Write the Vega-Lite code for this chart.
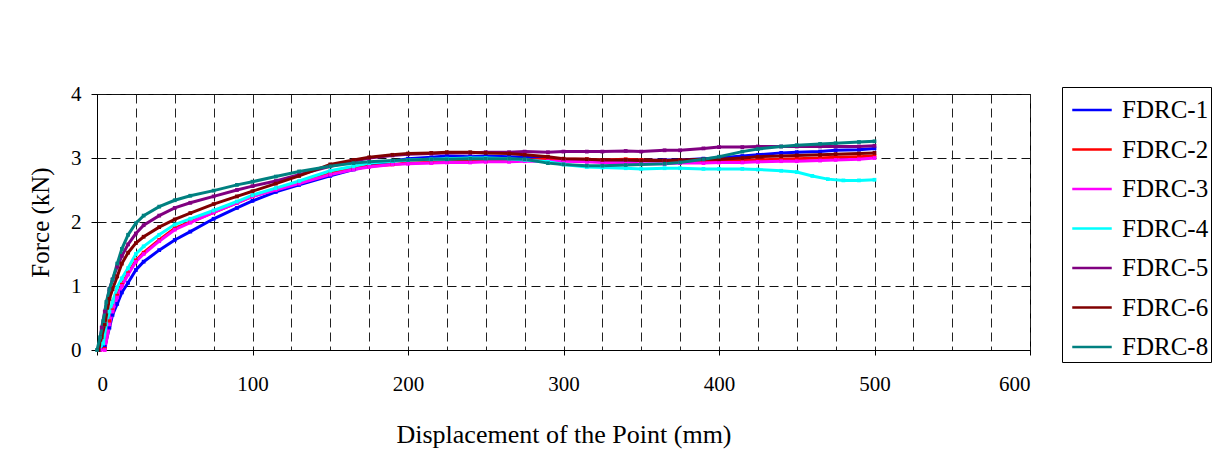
{
  "$schema": "https://vega.github.io/schema/vega-lite/v6.json",
  "autosize": {"type": "none"},
  "padding": {"left": 97, "top": 94, "right": 199, "bottom": 117},
  "width": 933,
  "height": 256,
  "background": "white",
  "config": {
    "view": {"stroke": "black", "strokeWidth": 1},
    "font": "Liberation Serif"
  },
  "datasets": {
    "curves": [
      {"s":"FDRC-1","x":2,"y":0},{"s":"FDRC-1","x":5,"y":0.05},{"s":"FDRC-1","x":8,"y":0.35},{"s":"FDRC-1","x":10,"y":0.55},{"s":"FDRC-1","x":13,"y":0.72},{"s":"FDRC-1","x":16,"y":0.9},{"s":"FDRC-1","x":20,"y":1.05},{"s":"FDRC-1","x":25,"y":1.25},{"s":"FDRC-1","x":30,"y":1.38},{"s":"FDRC-1","x":40,"y":1.56},{"s":"FDRC-1","x":50,"y":1.72},{"s":"FDRC-1","x":60,"y":1.85},{"s":"FDRC-1","x":75,"y":2.05},{"s":"FDRC-1","x":90,"y":2.22},{"s":"FDRC-1","x":100,"y":2.33},{"s":"FDRC-1","x":115,"y":2.47},{"s":"FDRC-1","x":130,"y":2.58},{"s":"FDRC-1","x":150,"y":2.72},{"s":"FDRC-1","x":165,"y":2.82},{"s":"FDRC-1","x":175,"y":2.88},{"s":"FDRC-1","x":190,"y":2.95},{"s":"FDRC-1","x":200,"y":2.99},{"s":"FDRC-1","x":215,"y":3.01},{"s":"FDRC-1","x":225,"y":3.03},{"s":"FDRC-1","x":240,"y":3.02},{"s":"FDRC-1","x":250,"y":3.03},{"s":"FDRC-1","x":265,"y":3.02},{"s":"FDRC-1","x":275,"y":3.01},{"s":"FDRC-1","x":290,"y":2.99},{"s":"FDRC-1","x":300,"y":2.97},{"s":"FDRC-1","x":315,"y":2.97},{"s":"FDRC-1","x":325,"y":2.96},{"s":"FDRC-1","x":340,"y":2.97},{"s":"FDRC-1","x":350,"y":2.96},{"s":"FDRC-1","x":365,"y":2.97},{"s":"FDRC-1","x":375,"y":2.97},{"s":"FDRC-1","x":390,"y":2.99},{"s":"FDRC-1","x":400,"y":3.0},{"s":"FDRC-1","x":415,"y":3.03},{"s":"FDRC-1","x":425,"y":3.05},{"s":"FDRC-1","x":440,"y":3.08},{"s":"FDRC-1","x":450,"y":3.09},{"s":"FDRC-1","x":465,"y":3.1},{"s":"FDRC-1","x":475,"y":3.12},{"s":"FDRC-1","x":490,"y":3.13},{"s":"FDRC-1","x":500,"y":3.15},
      {"s":"FDRC-2","x":2,"y":0},{"s":"FDRC-2","x":5,"y":0.02},{"s":"FDRC-2","x":8,"y":0.45},{"s":"FDRC-2","x":10,"y":0.62},{"s":"FDRC-2","x":13,"y":0.85},{"s":"FDRC-2","x":16,"y":1.02},{"s":"FDRC-2","x":20,"y":1.2},{"s":"FDRC-2","x":25,"y":1.4},{"s":"FDRC-2","x":30,"y":1.52},{"s":"FDRC-2","x":40,"y":1.72},{"s":"FDRC-2","x":50,"y":1.9},{"s":"FDRC-2","x":60,"y":2.0},{"s":"FDRC-2","x":75,"y":2.15},{"s":"FDRC-2","x":90,"y":2.3},{"s":"FDRC-2","x":100,"y":2.4},{"s":"FDRC-2","x":115,"y":2.52},{"s":"FDRC-2","x":130,"y":2.62},{"s":"FDRC-2","x":150,"y":2.76},{"s":"FDRC-2","x":165,"y":2.84},{"s":"FDRC-2","x":175,"y":2.87},{"s":"FDRC-2","x":190,"y":2.9},{"s":"FDRC-2","x":200,"y":2.92},{"s":"FDRC-2","x":215,"y":2.93},{"s":"FDRC-2","x":225,"y":2.94},{"s":"FDRC-2","x":240,"y":2.95},{"s":"FDRC-2","x":250,"y":2.95},{"s":"FDRC-2","x":265,"y":2.96},{"s":"FDRC-2","x":275,"y":2.97},{"s":"FDRC-2","x":290,"y":2.98},{"s":"FDRC-2","x":300,"y":2.98},{"s":"FDRC-2","x":315,"y":2.98},{"s":"FDRC-2","x":325,"y":2.97},{"s":"FDRC-2","x":340,"y":2.98},{"s":"FDRC-2","x":350,"y":2.97},{"s":"FDRC-2","x":365,"y":2.96},{"s":"FDRC-2","x":375,"y":2.96},{"s":"FDRC-2","x":390,"y":2.96},{"s":"FDRC-2","x":400,"y":2.95},{"s":"FDRC-2","x":415,"y":2.96},{"s":"FDRC-2","x":425,"y":2.97},{"s":"FDRC-2","x":440,"y":2.98},{"s":"FDRC-2","x":450,"y":2.99},{"s":"FDRC-2","x":465,"y":3.0},{"s":"FDRC-2","x":475,"y":3.01},{"s":"FDRC-2","x":490,"y":3.02},{"s":"FDRC-2","x":500,"y":3.03},
      {"s":"FDRC-3","x":2,"y":0},{"s":"FDRC-3","x":5,"y":0},{"s":"FDRC-3","x":8,"y":0.4},{"s":"FDRC-3","x":10,"y":0.6},{"s":"FDRC-3","x":13,"y":0.82},{"s":"FDRC-3","x":16,"y":1.0},{"s":"FDRC-3","x":20,"y":1.18},{"s":"FDRC-3","x":25,"y":1.38},{"s":"FDRC-3","x":30,"y":1.5},{"s":"FDRC-3","x":40,"y":1.7},{"s":"FDRC-3","x":50,"y":1.88},{"s":"FDRC-3","x":60,"y":1.99},{"s":"FDRC-3","x":75,"y":2.15},{"s":"FDRC-3","x":90,"y":2.3},{"s":"FDRC-3","x":100,"y":2.4},{"s":"FDRC-3","x":115,"y":2.5},{"s":"FDRC-3","x":130,"y":2.6},{"s":"FDRC-3","x":150,"y":2.74},{"s":"FDRC-3","x":165,"y":2.82},{"s":"FDRC-3","x":175,"y":2.86},{"s":"FDRC-3","x":190,"y":2.9},{"s":"FDRC-3","x":200,"y":2.91},{"s":"FDRC-3","x":215,"y":2.92},{"s":"FDRC-3","x":225,"y":2.93},{"s":"FDRC-3","x":240,"y":2.93},{"s":"FDRC-3","x":250,"y":2.94},{"s":"FDRC-3","x":265,"y":2.94},{"s":"FDRC-3","x":275,"y":2.95},{"s":"FDRC-3","x":290,"y":2.95},{"s":"FDRC-3","x":300,"y":2.95},{"s":"FDRC-3","x":315,"y":2.94},{"s":"FDRC-3","x":325,"y":2.93},{"s":"FDRC-3","x":340,"y":2.92},{"s":"FDRC-3","x":350,"y":2.91},{"s":"FDRC-3","x":365,"y":2.91},{"s":"FDRC-3","x":375,"y":2.92},{"s":"FDRC-3","x":390,"y":2.92},{"s":"FDRC-3","x":400,"y":2.93},{"s":"FDRC-3","x":415,"y":2.93},{"s":"FDRC-3","x":425,"y":2.94},{"s":"FDRC-3","x":440,"y":2.95},{"s":"FDRC-3","x":450,"y":2.95},{"s":"FDRC-3","x":465,"y":2.96},{"s":"FDRC-3","x":475,"y":2.97},{"s":"FDRC-3","x":490,"y":2.98},{"s":"FDRC-3","x":500,"y":3.0},
      {"s":"FDRC-4","x":1,"y":0},{"s":"FDRC-4","x":4,"y":0.1},{"s":"FDRC-4","x":6,"y":0.4},{"s":"FDRC-4","x":8,"y":0.6},{"s":"FDRC-4","x":10,"y":0.75},{"s":"FDRC-4","x":13,"y":0.98},{"s":"FDRC-4","x":16,"y":1.12},{"s":"FDRC-4","x":20,"y":1.28},{"s":"FDRC-4","x":25,"y":1.5},{"s":"FDRC-4","x":30,"y":1.62},{"s":"FDRC-4","x":40,"y":1.8},{"s":"FDRC-4","x":50,"y":1.96},{"s":"FDRC-4","x":60,"y":2.05},{"s":"FDRC-4","x":75,"y":2.18},{"s":"FDRC-4","x":90,"y":2.32},{"s":"FDRC-4","x":100,"y":2.42},{"s":"FDRC-4","x":115,"y":2.53},{"s":"FDRC-4","x":130,"y":2.64},{"s":"FDRC-4","x":150,"y":2.8},{"s":"FDRC-4","x":165,"y":2.87},{"s":"FDRC-4","x":175,"y":2.92},{"s":"FDRC-4","x":190,"y":2.95},{"s":"FDRC-4","x":200,"y":2.97},{"s":"FDRC-4","x":215,"y":2.98},{"s":"FDRC-4","x":225,"y":2.99},{"s":"FDRC-4","x":240,"y":3.0},{"s":"FDRC-4","x":250,"y":3.0},{"s":"FDRC-4","x":265,"y":2.99},{"s":"FDRC-4","x":275,"y":2.97},{"s":"FDRC-4","x":290,"y":2.94},{"s":"FDRC-4","x":300,"y":2.9},{"s":"FDRC-4","x":315,"y":2.86},{"s":"FDRC-4","x":325,"y":2.85},{"s":"FDRC-4","x":340,"y":2.84},{"s":"FDRC-4","x":350,"y":2.83},{"s":"FDRC-4","x":365,"y":2.84},{"s":"FDRC-4","x":375,"y":2.84},{"s":"FDRC-4","x":390,"y":2.83},{"s":"FDRC-4","x":400,"y":2.83},{"s":"FDRC-4","x":415,"y":2.83},{"s":"FDRC-4","x":425,"y":2.82},{"s":"FDRC-4","x":440,"y":2.8},{"s":"FDRC-4","x":450,"y":2.78},{"s":"FDRC-4","x":460,"y":2.72},{"s":"FDRC-4","x":470,"y":2.67},{"s":"FDRC-4","x":480,"y":2.65},{"s":"FDRC-4","x":490,"y":2.65},{"s":"FDRC-4","x":500,"y":2.66},
      {"s":"FDRC-5","x":1,"y":0},{"s":"FDRC-5","x":3,"y":0.35},{"s":"FDRC-5","x":5,"y":0.6},{"s":"FDRC-5","x":8,"y":0.95},{"s":"FDRC-5","x":10,"y":1.1},{"s":"FDRC-5","x":13,"y":1.3},{"s":"FDRC-5","x":16,"y":1.47},{"s":"FDRC-5","x":20,"y":1.65},{"s":"FDRC-5","x":25,"y":1.82},{"s":"FDRC-5","x":30,"y":1.95},{"s":"FDRC-5","x":40,"y":2.1},{"s":"FDRC-5","x":50,"y":2.22},{"s":"FDRC-5","x":60,"y":2.3},{"s":"FDRC-5","x":75,"y":2.4},{"s":"FDRC-5","x":90,"y":2.5},{"s":"FDRC-5","x":100,"y":2.56},{"s":"FDRC-5","x":115,"y":2.64},{"s":"FDRC-5","x":130,"y":2.74},{"s":"FDRC-5","x":150,"y":2.87},{"s":"FDRC-5","x":165,"y":2.95},{"s":"FDRC-5","x":175,"y":3.0},{"s":"FDRC-5","x":190,"y":3.04},{"s":"FDRC-5","x":200,"y":3.06},{"s":"FDRC-5","x":215,"y":3.07},{"s":"FDRC-5","x":225,"y":3.08},{"s":"FDRC-5","x":240,"y":3.08},{"s":"FDRC-5","x":250,"y":3.09},{"s":"FDRC-5","x":265,"y":3.09},{"s":"FDRC-5","x":275,"y":3.1},{"s":"FDRC-5","x":290,"y":3.09},{"s":"FDRC-5","x":300,"y":3.1},{"s":"FDRC-5","x":315,"y":3.1},{"s":"FDRC-5","x":325,"y":3.1},{"s":"FDRC-5","x":340,"y":3.11},{"s":"FDRC-5","x":350,"y":3.1},{"s":"FDRC-5","x":365,"y":3.12},{"s":"FDRC-5","x":375,"y":3.12},{"s":"FDRC-5","x":390,"y":3.15},{"s":"FDRC-5","x":400,"y":3.17},{"s":"FDRC-5","x":415,"y":3.17},{"s":"FDRC-5","x":425,"y":3.18},{"s":"FDRC-5","x":440,"y":3.18},{"s":"FDRC-5","x":450,"y":3.18},{"s":"FDRC-5","x":465,"y":3.18},{"s":"FDRC-5","x":475,"y":3.18},{"s":"FDRC-5","x":490,"y":3.18},{"s":"FDRC-5","x":500,"y":3.19},
      {"s":"FDRC-6","x":1,"y":0},{"s":"FDRC-6","x":3,"y":0.2},{"s":"FDRC-6","x":5,"y":0.4},{"s":"FDRC-6","x":8,"y":0.8},{"s":"FDRC-6","x":10,"y":0.95},{"s":"FDRC-6","x":13,"y":1.15},{"s":"FDRC-6","x":16,"y":1.35},{"s":"FDRC-6","x":20,"y":1.52},{"s":"FDRC-6","x":25,"y":1.67},{"s":"FDRC-6","x":30,"y":1.77},{"s":"FDRC-6","x":40,"y":1.92},{"s":"FDRC-6","x":50,"y":2.04},{"s":"FDRC-6","x":60,"y":2.14},{"s":"FDRC-6","x":75,"y":2.28},{"s":"FDRC-6","x":90,"y":2.4},{"s":"FDRC-6","x":100,"y":2.48},{"s":"FDRC-6","x":115,"y":2.6},{"s":"FDRC-6","x":130,"y":2.72},{"s":"FDRC-6","x":150,"y":2.9},{"s":"FDRC-6","x":165,"y":2.97},{"s":"FDRC-6","x":175,"y":3.01},{"s":"FDRC-6","x":190,"y":3.05},{"s":"FDRC-6","x":200,"y":3.07},{"s":"FDRC-6","x":215,"y":3.08},{"s":"FDRC-6","x":225,"y":3.09},{"s":"FDRC-6","x":240,"y":3.09},{"s":"FDRC-6","x":250,"y":3.08},{"s":"FDRC-6","x":265,"y":3.07},{"s":"FDRC-6","x":275,"y":3.05},{"s":"FDRC-6","x":290,"y":3.02},{"s":"FDRC-6","x":300,"y":2.99},{"s":"FDRC-6","x":315,"y":2.98},{"s":"FDRC-6","x":325,"y":2.97},{"s":"FDRC-6","x":340,"y":2.97},{"s":"FDRC-6","x":350,"y":2.96},{"s":"FDRC-6","x":365,"y":2.96},{"s":"FDRC-6","x":375,"y":2.97},{"s":"FDRC-6","x":390,"y":2.98},{"s":"FDRC-6","x":400,"y":2.98},{"s":"FDRC-6","x":415,"y":3.0},{"s":"FDRC-6","x":425,"y":3.02},{"s":"FDRC-6","x":440,"y":3.03},{"s":"FDRC-6","x":450,"y":3.04},{"s":"FDRC-6","x":465,"y":3.05},{"s":"FDRC-6","x":475,"y":3.06},{"s":"FDRC-6","x":490,"y":3.07},{"s":"FDRC-6","x":500,"y":3.08},
      {"s":"FDRC-8","x":0,"y":0},{"s":"FDRC-8","x":2,"y":0.2},{"s":"FDRC-8","x":4,"y":0.45},{"s":"FDRC-8","x":6,"y":0.75},{"s":"FDRC-8","x":8,"y":0.95},{"s":"FDRC-8","x":10,"y":1.1},{"s":"FDRC-8","x":13,"y":1.35},{"s":"FDRC-8","x":16,"y":1.58},{"s":"FDRC-8","x":20,"y":1.8},{"s":"FDRC-8","x":25,"y":1.98},{"s":"FDRC-8","x":30,"y":2.1},{"s":"FDRC-8","x":40,"y":2.24},{"s":"FDRC-8","x":50,"y":2.34},{"s":"FDRC-8","x":60,"y":2.41},{"s":"FDRC-8","x":75,"y":2.49},{"s":"FDRC-8","x":90,"y":2.58},{"s":"FDRC-8","x":100,"y":2.63},{"s":"FDRC-8","x":115,"y":2.71},{"s":"FDRC-8","x":130,"y":2.79},{"s":"FDRC-8","x":150,"y":2.87},{"s":"FDRC-8","x":165,"y":2.92},{"s":"FDRC-8","x":175,"y":2.94},{"s":"FDRC-8","x":190,"y":2.96},{"s":"FDRC-8","x":200,"y":2.97},{"s":"FDRC-8","x":215,"y":2.98},{"s":"FDRC-8","x":225,"y":2.98},{"s":"FDRC-8","x":240,"y":2.99},{"s":"FDRC-8","x":250,"y":2.99},{"s":"FDRC-8","x":265,"y":2.99},{"s":"FDRC-8","x":275,"y":2.98},{"s":"FDRC-8","x":290,"y":2.92},{"s":"FDRC-8","x":300,"y":2.9},{"s":"FDRC-8","x":315,"y":2.88},{"s":"FDRC-8","x":325,"y":2.88},{"s":"FDRC-8","x":340,"y":2.89},{"s":"FDRC-8","x":350,"y":2.9},{"s":"FDRC-8","x":365,"y":2.91},{"s":"FDRC-8","x":375,"y":2.93},{"s":"FDRC-8","x":390,"y":2.98},{"s":"FDRC-8","x":400,"y":3.02},{"s":"FDRC-8","x":415,"y":3.1},{"s":"FDRC-8","x":425,"y":3.14},{"s":"FDRC-8","x":440,"y":3.18},{"s":"FDRC-8","x":450,"y":3.2},{"s":"FDRC-8","x":465,"y":3.22},{"s":"FDRC-8","x":475,"y":3.23},{"s":"FDRC-8","x":490,"y":3.25},{"s":"FDRC-8","x":500,"y":3.26}
    ]
  },
  "data": {"name": "curves"},
  "encoding": {
    "x": {
      "field": "x", "type": "quantitative",
      "scale": {"domain": [0, 600], "nice": false, "zero": false},
      "axis": {
        "title": "Displacement of the Point (mm)",
        "values": [0,25,50,75,100,125,150,175,200,225,250,275,300,325,350,375,400,425,450,475,500,525,550,575,600],
        "labelExpr": "datum.value % 100 === 0 ? datum.label : ''",
        "labelFont": "Liberation Serif", "labelFontSize": 21, "labelColor": "black",
        "labelPadding": 18,
        "tickSize": 5,
        "tickColor": {"condition": {"test": "datum.value % 100 === 0", "value": "black"}, "value": "transparent"},
        "domainColor": "black", "domainWidth": 1,
        "grid": true, "gridColor": "#222", "gridDash": [9, 5], "gridWidth": 1,
        "titleFont": "Liberation Serif", "titleFontSize": 26, "titleFontWeight": "normal", "titleColor": "black",
        "titlePadding": 27
      }
    },
    "y": {
      "field": "y", "type": "quantitative",
      "scale": {"domain": [0, 4], "nice": false},
      "axis": {
        "title": "Force (kN)",
        "values": [0, 1, 2, 3, 4],
        "labelFont": "Liberation Serif", "labelFontSize": 21, "labelColor": "black",
        "labelPadding": 10, "tickSize": 6, "tickColor": "black",
        "domainColor": "black",
        "grid": true, "gridColor": "#111", "gridDash": [9, 5], "gridWidth": 1,
        "titleFont": "Liberation Serif", "titleFontSize": 25, "titleFontWeight": "normal", "titleColor": "black",
        "titlePadding": 17
      }
    },
    "color": {
      "field": "s", "type": "nominal",
      "scale": {
        "domain": ["FDRC-1","FDRC-2","FDRC-3","FDRC-4","FDRC-5","FDRC-6","FDRC-8"],
        "range": ["#0000FF","#FF0000","#FF00FF","#00FFFF","#800080","#800000","#008080"]
      },
      "legend": {
        "title": null,
        "orient": "none", "legendX": 965, "legendY": -7,
        "fillColor": "white", "strokeColor": "black", "padding": 2,
        "symbolType": "stroke", "symbolSize": 1560, "symbolStrokeWidth": 2.5,
        "symbolOffset": 7,
        "labelFont": "Liberation Serif", "labelFontSize": 25, "labelColor": "black",
        "labelOffset": 9, "rowPadding": 5.5
      }
    }
  },
  "layer": [
    {"mark": {"type": "line", "strokeWidth": 3}},
    {"mark": {"type": "point", "shape": "square", "filled": true, "size": 14, "opacity": 1}}
  ]
}
